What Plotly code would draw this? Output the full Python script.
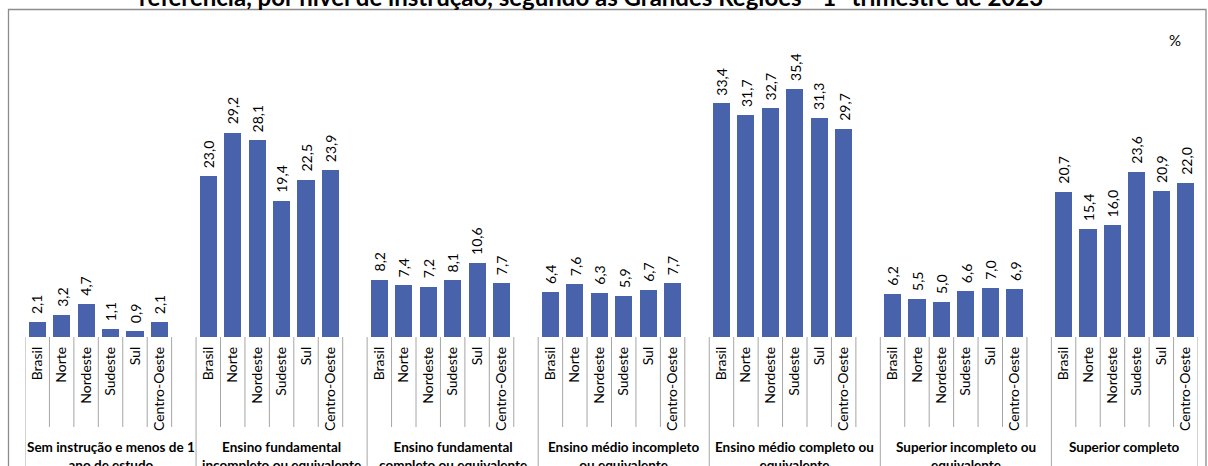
import plotly.graph_objects as go

# ---- data ----
groups = [
    "Sem instrução e menos de 1<br>ano de estudo",
    "Ensino fundamental<br>incompleto ou equivalente",
    "Ensino fundamental<br>completo ou equivalente",
    "Ensino médio incompleto<br>ou equivalente",
    "Ensino médio completo ou<br>equivalente",
    "Superior incompleto ou<br>equivalente",
    "Superior completo",
]
regions = ["Brasil", "Norte", "Nordeste", "Sudeste", "Sul", "Centro-Oeste"]

sem_instrucao = [2.1, 3.2, 4.7, 1.1, 0.9, 2.1]
fund_incompleto = [23.0, 29.2, 28.1, 19.4, 22.5, 23.9]
fund_completo = [8.2, 7.4, 7.2, 8.1, 10.6, 7.7]
medio_incompleto = [6.4, 7.6, 6.3, 5.9, 6.7, 7.7]
medio_completo = [33.4, 31.7, 32.7, 35.4, 31.3, 29.7]
superior_incompleto = [6.2, 5.5, 5.0, 6.6, 7.0, 6.9]
superior_completo = [20.7, 15.4, 16.0, 23.6, 20.9, 22.0]

series = [sem_instrucao, fund_incompleto, fund_completo, medio_incompleto,
          medio_completo, superior_incompleto, superior_completo]

title_text = "referência, por nível de instrução, segundo as Grandes Regiões - 1º trimestre de 2023"

# ---- layout constants ----
W, H = 1208, 466
ML, MR, MT, MB = 25, 10, 15, 129
YMAX = 46
slot = len(regions) + 1  # 6 regions + 1 blank slot per group
FONT = "Lato"
BAR = "#4863ab"
LINE = "#a6a6a6"

xs, ys, labels, txt = [], [], [], []
for g, vals in enumerate(series):
    for r, v in enumerate(vals):
        xs.append(g * slot + r)
        ys.append(v)
        labels.append(regions[r])
        txt.append(f"{v:.1f}".replace(".", ","))

xmin = -0.5
xmax = (len(groups) - 1) * slot + len(regions) - 0.5

pw = W - ML - MR
ph = H - MT - MB


def py(pix):
    """pixel y (from top) to paper y"""
    return (H - MB - pix) / ph


def px(pix):
    return (pix - ML) / pw


fig = go.Figure()
fig.add_trace(go.Bar(
    x=xs, y=ys, width=0.7,
    marker=dict(color=BAR, line=dict(width=0)),
    cliponaxis=False, hoverinfo="skip",
))

shapes = []
# inner tick separators and group separators
for g in range(len(groups)):
    start = g * slot - 0.5
    shapes.append(dict(type="line", xref="x", yref="paper", x0=start, x1=start,
                       y0=0, y1=py(475), line=dict(color=LINE, width=1)))
    nsep = len(regions) if g < len(groups) - 1 else len(regions) - 1
    for k in range(nsep):
        b = g * slot + k + 0.5
        shapes.append(dict(type="line", xref="x", yref="paper", x0=b, x1=b,
                           y0=0, y1=py(427), line=dict(color=LINE, width=1)))
shapes.append(dict(type="line", xref="x", yref="paper", x0=xmax, x1=xmax,
                   y0=0, y1=py(475), line=dict(color=LINE, width=1)))
# outer frame
shapes.append(dict(type="rect", xref="paper", yref="paper",
                   x0=px(8.5), x1=px(1206), y0=py(480), y1=py(9.5),
                   line=dict(color="#8c8c8c", width=1.3), fillcolor="rgba(0,0,0,0)"))

annotations = []
# data labels (rotated, above bars)
for x, v, t in zip(xs, ys, txt):
    annotations.append(dict(x=x, y=v, xref="x", yref="y", text=t, textangle=-90,
                            xanchor="center", yanchor="bottom", yshift=6,
                            showarrow=False, font=dict(family=FONT, size=14, color="#000")))
# group labels, centred between the group's divider lines
for g, name in enumerate(groups):
    last = g == len(groups) - 1
    left = g * slot - 0.5
    right = left + (len(regions) if last else slot)
    c = (left + right) / 2
    annotations.append(dict(x=c, xref="x", y=py(437), yref="paper", yanchor="top",
                            xanchor="center", text=f"<b>{name}</b>", showarrow=False,
                            font=dict(family=FONT, size=13.5, color="#000")))
annotations.append(dict(x=px(1175), xref="paper", y=py(40), yref="paper",
                        xanchor="center", yanchor="middle",
                        text="%", showarrow=False,
                        font=dict(family=FONT, size=15, color="#000")))
annotations.append(dict(x=px(591), xref="paper", y=py(-4), yref="paper",
                        xanchor="center", yanchor="middle",
                        text=f"<b>{title_text}</b>", showarrow=False,
                        font=dict(family=FONT, size=24, color="#000")))

fig.update_layout(
    width=W, height=H,
    margin=dict(l=ML, r=MR, t=MT, b=MB),
    paper_bgcolor="white", plot_bgcolor="white",
    showlegend=False,
    shapes=shapes, annotations=annotations,
    xaxis=dict(range=[xmin, xmax], tickmode="array", tickvals=xs, ticktext=labels,
               tickangle=-90, ticks="", showgrid=False, zeroline=False, showline=False,
               tickfont=dict(family=FONT, size=14, color="#000"), ticklabelstandoff=6,
               automargin=False, fixedrange=True),
    yaxis=dict(range=[0, YMAX], visible=False, fixedrange=True),
    bargap=0,
)

fig.write_html(
    "out.html",
    config={"displayModeBar": False},
    post_script="document.body.style.margin='0';document.body.style.overflow='hidden';",
)
